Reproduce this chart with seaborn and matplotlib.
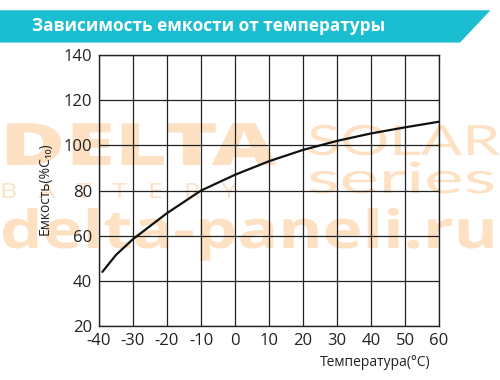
##### Libraries #####
import numpy as np
import pandas as pd
import seaborn as sns
from matplotlib import pyplot as plt
from matplotlib.patches import Polygon
from matplotlib.patheffects import AbstractPathEffect
from matplotlib.transforms import Affine2D

##### Data #####
temperature = [-39, -35, -30, -20, -10, 0, 10, 20, 30, 40, 50, 60]
capacity = [44, 51.5, 58.5, 70, 80, 87, 93, 98, 102, 105.3, 108, 110.5]
x_ticks = [-40, -30, -20, -10, 0, 10, 20, 30, 40, 50, 60]
y_ticks = [20, 40, 60, 80, 100, 120, 140]

df = pd.DataFrame({'temperature': temperature, 'capacity': capacity})


# horizontal stretch of a text around its left edge (for the watermark)
class Stretch(AbstractPathEffect):
    def __init__(self, sx, x0):
        super().__init__()
        self.sx = sx
        self.x0 = x0

    def draw_path(self, renderer, gc, tpath, affine, rgbFace=None):
        extra = Affine2D().translate(-self.x0, 0).scale(self.sx, 1).translate(self.x0, 0)
        renderer.draw_path(gc, tpath, affine + extra, rgbFace)


##### Plot #####
sns.set_theme(style="white")
plt.rcParams['font.family'] = ['Open Sans', 'DejaVu Sans']

W, H = 500, 380
fig = plt.figure(figsize=(5, 3.8), dpi=100)
ax = fig.add_axes([0.198, 0.142, 0.68, 0.713])
ax.set_facecolor('none')

# watermark behind the axes: (text, left px, right px, baseline px, size, weight, family)
wm = '#fde1c2'
wm_items = [
    ('DELTA', 0, 277, 165, 42, 'heavy', 'Open Sans'),
    ('B   A   T   T   E   R   Y', 0, 236, 198, 15, 'normal', 'Open Sans'),
    ('delta-paneli.ru', 0, 498, 248, 38, 'bold', 'Open Sans'),
    ('SOLAR', 307, 500, 155, 30, 'normal', 'Lato'),
    ('series', 307, 495, 193, 31, 'normal', 'Lato'),
]
wm_texts = []
for s, x0, x1, yb, size, weight, family in wm_items:
    t = fig.text(x0 / W, 1 - yb / H, s, fontsize=size, fontweight=weight, family=family,
                 color=wm, zorder=-5, ha='left', va='baseline')
    wm_texts.append((t, x0, x1))

# curve
sns.lineplot(data=df, x='temperature', y='capacity', color='#111111', linewidth=1.6, ax=ax)

ax.set_xlim(-40, 60)
ax.set_ylim(20, 140)
ax.set_xticks(x_ticks)
ax.set_yticks(y_ticks)
ax.set_xticklabels([str(t) for t in x_ticks])
ax.grid(True, color='#222222', linewidth=0.9)
for s in ax.spines.values():
    s.set_color('#222222')
    s.set_linewidth(1.0)
ax.tick_params(axis='both', length=0, labelsize=12, colors='#222222', pad=5)
ax.set_xlabel('')
ax.set_ylabel('')

fig.text(0.86, 0.045, 'Температура(°C)', fontsize=10, color='#222222', ha='right', va='center')
fig.text(0.09, 0.503, 'Емкость(%C₁₀)', fontsize=10, color='#222222', rotation=90,
         ha='center', va='center')

# title banner
banner = Polygon([[0, 0.973], [0.981, 0.973], [0.92, 0.888], [0, 0.888]],
                 closed=True, transform=fig.transFigure, facecolor='#1bbdd1', edgecolor='none')
fig.patches.append(banner)
fig.text(0.064, 0.931, 'Зависимость емкости от температуры', fontsize=12.4, fontweight='bold',
         color='white', ha='left', va='center')

# fit watermark widths
fig.canvas.draw()
renderer = fig.canvas.get_renderer()
for t, x0, x1 in wm_texts:
    bb = t.get_window_extent(renderer)
    t.set_path_effects([Stretch((x1 - x0) / bb.width, bb.x0)])

plt.savefig('out.png', dpi=100)
